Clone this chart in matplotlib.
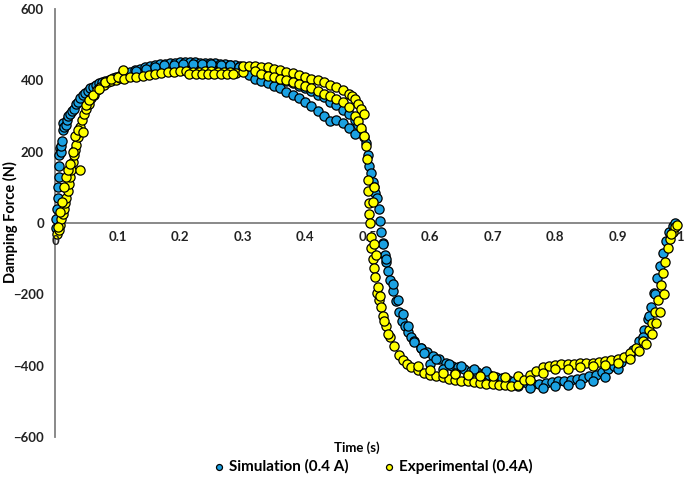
import matplotlib
matplotlib.use("Agg")
import matplotlib.pyplot as plt
import numpy as np

plt.rcParams['font.family'] = ['Lato', 'DejaVu Sans']
plt.rcParams['font.weight'] = 'bold'

# Simulation (0.4 A), branch by branch
sim_t = [0.001, 0.002, 0.003, 0.004, 0.005, 0.006, 0.006, 0.007, 0.008, 0.009, 0.010, 0.011,
         0.012, 0.013, 0.015, 0.017, 0.019, 0.021, 0.024, 0.027, 0.030, 0.033, 0.036, 0.040,
         0.044, 0.048, 0.052, 0.056, 0.060, 0.065, 0.070, 0.075, 0.080, 0.086, 0.092, 0.098,
         0.105, 0.112, 0.120, 0.128, 0.136, 0.144, 0.152, 0.160, 0.168, 0.176, 0.184, 0.192,
         0.200, 0.208, 0.216, 0.224, 0.232, 0.240, 0.248, 0.256, 0.264, 0.272, 0.280, 0.288,
         0.296,
         0.13, 0.145, 0.16, 0.175, 0.19, 0.205, 0.22, 0.235, 0.25, 0.265, 0.28, 0.295, 0.31,
         0.30, 0.31, 0.32, 0.33, 0.34, 0.35, 0.36, 0.37, 0.38, 0.39, 0.40, 0.41, 0.42, 0.43,
         0.44, 0.45, 0.46, 0.47, 0.48, 0.485, 0.49, 0.495,
         0.31, 0.32, 0.33, 0.34, 0.35, 0.36, 0.37, 0.38, 0.39, 0.40, 0.41, 0.42, 0.43, 0.44,
         0.45, 0.46, 0.47, 0.48,
         0.498, 0.50, 0.503, 0.505, 0.508, 0.51, 0.512, 0.515, 0.518, 0.52, 0.522, 0.525,
         0.528, 0.53, 0.533, 0.536, 0.54, 0.545, 0.55, 0.555, 0.56, 0.565, 0.57,
         0.525, 0.53, 0.54, 0.548, 0.556, 0.565, 0.575, 0.585,
         0.575, 0.585, 0.595, 0.605, 0.615, 0.625, 0.635, 0.645, 0.655, 0.665, 0.675, 0.685,
         0.695, 0.705, 0.715, 0.725, 0.735, 0.745, 0.755, 0.765, 0.775, 0.785, 0.795, 0.805,
         0.815, 0.825, 0.835, 0.845, 0.855, 0.865, 0.875, 0.885, 0.895, 0.905, 0.915, 0.925,
         0.935, 0.942, 0.948, 0.953, 0.958, 0.963, 0.968, 0.973, 0.978, 0.983, 0.988, 0.992,
         0.60, 0.62, 0.64, 0.66, 0.68, 0.70, 0.72, 0.74, 0.76, 0.78, 0.80, 0.82, 0.84, 0.86,
         0.88, 0.90, 0.92, 0.94, 0.95, 0.96,
         0.59, 0.61, 0.63, 0.65, 0.67, 0.69]
sim_f = [-15, 10, 40, 70, 100, 130, 160, 190, 210, 200, 215, 230,
         260, 280, 270, 275, 290, 300, 305, 315, 320, 335, 340, 350,
         360, 365, 370, 378, 382, 388, 392, 395, 398, 402, 406, 410,
         415, 418, 422, 428, 432, 436, 440, 443, 445, 447, 449, 450,
         451, 451, 451, 451, 450, 450, 450, 448, 446, 445, 443, 442,
         440,
         425, 432, 438, 442, 444, 445, 446, 446, 445, 444, 442, 438, 430,
         438, 432, 425, 420, 415, 410, 405, 398, 392, 385, 378, 370, 360, 352,
         340, 330, 318, 305, 290, 275, 258, 240,
         415, 405, 398, 392, 385, 378, 368, 360, 350, 340, 328, 315, 300, 285,
         290, 280, 265, 250,
         225, 190, 160, 140, 115, 100, 85, 70, 40, 5, -25, -55,
         -90, -110, -135, -160, -190, -220, -250, -275, -290, -305, -320,
         -60, -100, -170, -215, -255, -290, -330, -350,
         -335, -350, -362, -372, -382, -392, -400, -405, -410, -415, -419, -423,
         -427, -431, -435, -440, -443, -446, -449, -450, -450, -448, -446, -444,
         -442, -440, -437, -434, -430, -425, -418, -410, -400, -390, -375, -355,
         -330, -300, -270, -235, -195, -155, -120, -85, -50, -25, -8, 0,
         -395, -410, -420, -428, -437, -445, -452, -458, -462, -462, -458, -455, -450, -442,
         -432, -410, -370, -320, -260, -200,
         -365, -382, -395, -402, -410, -416]

# Experimental (0.4A)
exp_t = [0.003, 0.006, 0.008, 0.010, 0.012, 0.014, 0.016, 0.018, 0.020, 0.022, 0.024, 0.026,
         0.028, 0.030, 0.032, 0.034, 0.036, 0.038, 0.040, 0.043, 0.046, 0.050, 0.054, 0.058,
         0.062, 0.067, 0.072, 0.078, 0.084, 0.090, 0.097, 0.104,
         0.005, 0.008, 0.011, 0.014, 0.017, 0.02, 0.024, 0.028, 0.032, 0.036, 0.04, 0.045,
         0.05, 0.055, 0.06, 0.07, 0.08, 0.09, 0.1, 0.108,
         0.11, 0.12, 0.13, 0.14, 0.15, 0.16, 0.17, 0.18, 0.19, 0.20, 0.21, 0.22, 0.23, 0.24,
         0.25, 0.26, 0.27, 0.28, 0.29, 0.30,
         0.215, 0.225, 0.235, 0.245, 0.255, 0.265, 0.275, 0.285,
         0.30, 0.31, 0.32, 0.33, 0.34, 0.35, 0.36, 0.37, 0.38, 0.39, 0.40, 0.41, 0.42, 0.43,
         0.44, 0.45, 0.46, 0.47, 0.475, 0.48, 0.485, 0.49, 0.495,
         0.32, 0.33, 0.34, 0.35, 0.36, 0.37, 0.38, 0.39, 0.40, 0.41, 0.42, 0.43, 0.44, 0.45,
         0.46, 0.47, 0.48, 0.485, 0.49, 0.495,
         0.497, 0.499, 0.500, 0.501, 0.502, 0.503, 0.504, 0.505, 0.506, 0.508, 0.510, 0.512,
         0.515, 0.518, 0.521, 0.525, 0.53, 0.536, 0.542, 0.55, 0.557, 0.563,
         0.51, 0.509, 0.511, 0.513, 0.517, 0.52, 0.527, 0.533,
         0.57, 0.58, 0.59, 0.60, 0.61, 0.62, 0.63, 0.64, 0.65, 0.66, 0.67, 0.68, 0.69, 0.70,
         0.71, 0.72, 0.73, 0.74,
         0.58, 0.60, 0.62, 0.64, 0.66, 0.68, 0.70, 0.72, 0.74,
         0.75, 0.76, 0.77, 0.78, 0.79, 0.80, 0.81, 0.82, 0.83, 0.84, 0.85, 0.86, 0.87, 0.88,
         0.89, 0.90, 0.91, 0.92, 0.93, 0.94, 0.95, 0.955, 0.96, 0.965, 0.97, 0.973, 0.976,
         0.98, 0.984, 0.988, 0.992, 0.995,
         0.76, 0.78, 0.80, 0.82, 0.84, 0.86, 0.88, 0.90, 0.92, 0.935, 0.945, 0.955, 0.962,
         0.968, 0.975, 0.985]
exp_f = [-30, -20, -5, 10, 25, 40, 55, 70, 90, 110, 130, 150,
         170, 190, 205, 220, 240, 255, 270, 290, 305, 320, 335, 350,
         360, 372, 380, 388, 394, 398, 402, 406,
         -10, 30, 60, 100, 130, 150, 165, 200, 245, 260, 150, 255,
         330, 345, 358, 375, 395, 405, 410, 428,
         405, 408, 410, 413, 416, 418, 420, 422, 424, 425, 425, 424, 424, 425,
         425, 424, 423, 422, 421, 422,
         418, 418, 418, 419, 418, 418, 419, 419,
         440, 440, 440, 438, 436, 433, 428, 424, 420, 416, 410, 405, 400, 395,
         388, 380, 372, 362, 355, 348, 335, 320, 305,
         425, 418, 412, 408, 405, 400, 395, 390, 385, 378, 370, 362, 355, 348,
         338, 325, 300, 285, 265, 245,
         215, 180, 120, 90, 55, 25, 0, -40, -70, -100, -125, -150,
         -195, -215, -235, -260, -290, -320, -345, -370, -385, -395,
         100, 60, -60, -90, -180, -205, -275, -310,
         -405, -412, -420, -425, -430, -433, -436, -440, -442, -444, -446, -448, -450, -452,
         -453, -455, -457, -455,
         -400, -412, -420, -424, -427, -428, -430, -432, -430,
         -440, -425, -415, -405, -400, -398, -396, -395, -394, -393, -392, -392, -390, -388,
         -385, -380, -375, -365, -350, -330, -300, -280, -250, -215, -175, -140, -110,
         -70, -45, -25, -12, -5,
         -440, -420, -410, -408, -405, -402, -398, -392, -380, -360, -340, -310, -280,
         -250, -200, -30]

x_ticks = [0.1, 0.2, 0.3, 0.4, 0.5, 0.6, 0.7, 0.8, 0.9, 1]
y_ticks = [-600, -400, -200, 0, 200, 400, 600]

fig = plt.figure(figsize=(6.85, 4.91), dpi=100)
ax = fig.add_axes([55/685, 54/491, 625/685, 428/491])

ax.scatter(sim_t, sim_f, s=44, c='#1BA1E2', edgecolors='black', linewidths=0.9,
           label='Simulation (0.4 A)', zorder=3, clip_on=False)
ax.scatter(exp_t, exp_f, s=44, c='#FFFF00', edgecolors='black', linewidths=0.9,
           label='Experimental (0.4A)', zorder=4, clip_on=False)

ax.set_xlim(0, 1)
ax.set_ylim(-600, 600)
ax.spines['top'].set_visible(False)
ax.spines['right'].set_visible(False)
ax.spines['bottom'].set_position(('data', 0))
for sp in ('left', 'bottom'):
    ax.spines[sp].set_color('#808080')
    ax.spines[sp].set_linewidth(1.3)
    ax.spines[sp].set_zorder(2)

ax.set_xticks(x_ticks)
ax.set_xticklabels(['0.1', '0.2', '0.3', '0.4', '0.5', '0.6', '0.7', '0.8', '0.9', '1'])
ax.set_yticks(y_ticks)
ax.tick_params(axis='both', length=0, labelsize=9.5, colors='#222222')
ax.tick_params(axis='x', pad=6)
ax.tick_params(axis='y', pad=8)
# x "0" label at the origin, drawn over the first markers
ax.annotate('0', xy=(0, 0), xytext=(0, -17), textcoords='offset points',
            ha='center', va='bottom', fontsize=9.5, fontweight='bold', color='#222222',
            zorder=5)

fig.text(10/685, 1 - 222/491, 'Damping Force (N)', rotation=90, ha='center', va='center',
         fontsize=10.5, fontweight='bold')
fig.text(357/685, 1 - 448/491, 'Time (s)', ha='center', va='center',
         fontsize=9.5, fontweight='bold')

fig.legend(loc='center', bbox_to_anchor=(372/685, 1 - 466/491), ncol=2, frameon=False,
           fontsize=11, handletextpad=0.1, columnspacing=2.2, markerscale=0.65,
           handlelength=1.0)

fig.savefig('out.png', dpi=100)
